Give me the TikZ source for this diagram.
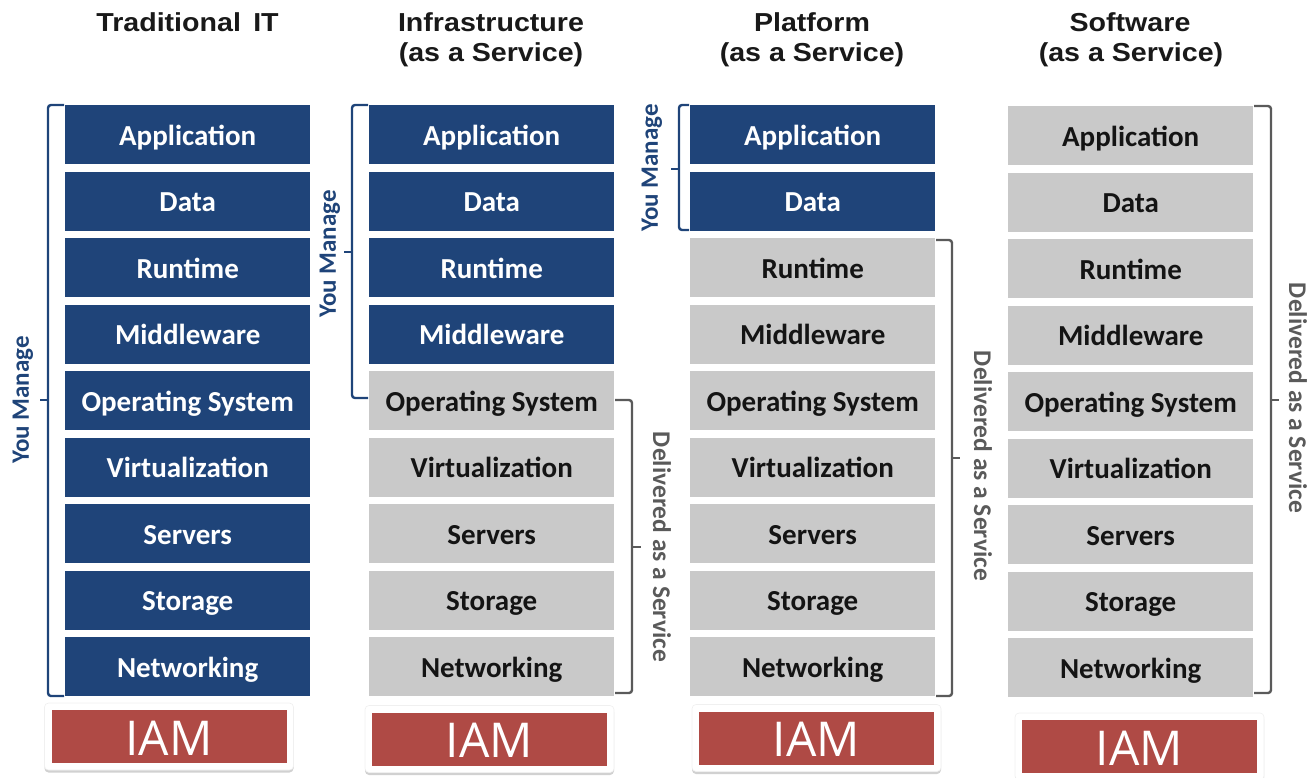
\documentclass[tikz,border=0pt]{standalone}
\usepackage{fontspec}
\setmainfont{Carlito}
\newfontfamily\titlefont[FakeStretch=1.1]{Liberation Sans}
\newfontfamily\iamfont{Open Sans}
\usetikzlibrary{shadows}
\definecolor{navy}{HTML}{1F4479}
\definecolor{lgray}{HTML}{C9C9C9}
\definecolor{iamred}{HTML}{AF4A45}
\definecolor{brgray}{HTML}{5A5A5A}
\begin{document}
\begin{tikzpicture}[x=1pt,y=-1pt,
  layer/.style={minimum width=245pt, minimum height=59pt, inner sep=0pt,
    text height=24pt, text depth=3pt, anchor=north west,
    font=\fontsize{29}{30}\selectfont\bfseries},
  mine/.style={layer, fill=navy, text=white},
  theirs/.style={layer, fill=lgray, text=black!92},
  title/.style={anchor=base, font=\titlefont\fontsize{26}{28}\selectfont\bfseries, text=black!90, inner sep=0pt},
  youbrace/.style={draw=navy, line width=2.4pt, rounded corners=3pt},
  delbrace/.style={draw=brgray, line width=2.4pt, rounded corners=3pt},
  youtext/.style={rotate=90, text=navy, font=\fontsize{25}{26}\selectfont\bfseries, inner sep=0pt},
  deltext/.style={rotate=-90, text=brgray, font=\fontsize{25.5}{26}\selectfont\bfseries, inner sep=0pt},
  iamback/.style={fill=white, rounded corners=4pt, draw=black!6, line width=0.6pt,
    drop shadow={shadow xshift=0pt, shadow yshift=-2.5pt, opacity=0.3, fill=black!60}},
  iambox/.style={fill=iamred, text=white, inner sep=0pt, minimum width=235pt, minimum height=53pt,
    text height=37pt, text depth=0pt, font=\iamfont\fontsize{48}{50}\selectfont},
]
\useasboundingbox (0,0) rectangle (1313,777);

% titles
\node[title] (t1) at (187.5,31) {Traditional\, IT};
\node[title] (t2) at (491,31) {Infrastructure};
\node[title] (t2b) at (491,61) {(as a Service)};
\node[title] (t3) at (812,31) {Platform};
\node[title] (t3b) at (812,61) {(as a Service)};
\node[title] (t4) at (1130,31) {Software};
\node[title] (t4b) at (1131,61) {(as a Service)};

% stacks
\foreach \c/\x/\t/\m in {1/65/105/9, 2/369/105/4, 3/690/105/2, 4/1008/106/0} {
  \foreach \lab [count=\i] in {Application,Data,Runtime,Middleware,Operating System,Virtualization,Servers,Storage,Networking} {
    \pgfmathsetmacro\yy{\t+66.5*(\i-1)}
    \ifnum\i>\m
      \node[theirs] (c\c r\i) at (\x,\yy) {\lab};
    \else
      \node[mine] (c\c r\i) at (\x,\yy) {\lab};
    \fi
  }
}

% "You Manage" braces
\draw[youbrace] (64,105) -- (48,105) -- (48,696) -- (64,696);
\draw[draw=navy, line width=2.4pt] (48,400) -- (40,400);
\node[youtext] (ym1) at (23,400) {You Manage};

\draw[youbrace] (368,105) -- (352,105) -- (352,398) -- (368,398);
\draw[draw=navy, line width=2.4pt] (352,252) -- (344,252);
\node[youtext] (ym2) at (330,254) {You Manage};

\draw[youbrace] (689,105) -- (679,105) -- (679,230) -- (689,230);
\draw[draw=navy, line width=2.4pt] (679,169) -- (671,169);
\node[youtext] (ym3) at (652,168) {You Manage};

% "Delivered as a Service" braces
\draw[delbrace] (615,400) -- (632,400) -- (632,693) -- (615,693);
\draw[draw=brgray, line width=2.4pt] (632,547) -- (641,547);
\node[deltext] (ds2) at (662,547) {Delivered as a Service};

\draw[delbrace] (936,240) -- (952,240) -- (952,696) -- (936,696);
\draw[draw=brgray, line width=2.4pt] (952,458) -- (960,458);
\node[deltext] (ds3) at (983,466) {Delivered as a Service};

\draw[delbrace] (1254,106) -- (1271,106) -- (1271,693) -- (1254,693);
\draw[draw=brgray, line width=2.4pt] (1271,400) -- (1279,400);
\node[deltext] (ds4) at (1298,398) {Delivered as a Service};

% IAM boxes
\foreach \k/\cx/\cy in {1/169/736.5, 2/489.5/739, 3/816.5/738, 4/1139.5/746.5} {
  \node[iamback, minimum width=249pt, minimum height=67pt, inner sep=0pt] (iamb\k) at (\cx,\cy) {};
  \node[iambox] (iam\k) at (\cx,\cy) {IAM};
}
\end{tikzpicture}
\end{document}
